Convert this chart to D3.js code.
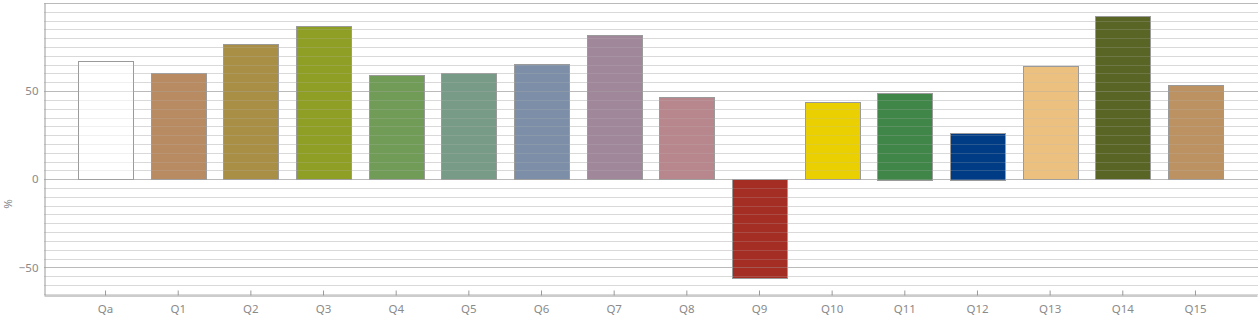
<!DOCTYPE html>
<html>
<head>
<meta charset="utf-8">
<script src="https://cdn.jsdelivr.net/npm/d3@7"></script>
<style>
  body { margin: 0; background: #fff; }
  svg text { font-family: "Noto Sans", "Open Sans", sans-serif; fill: #8a8a8a; font-size: 11.5px; }
</style>
</head>
<body>
<svg width="1258" height="315"></svg>
<script>
var categories = ['Qa', 'Q1', 'Q2', 'Q3', 'Q4', 'Q5', 'Q6', 'Q7', 'Q8', 'Q9', 'Q10', 'Q11', 'Q12', 'Q13', 'Q14', 'Q15'];
var values = [67.0, 60.2, 76.7, 86.9, 58.9, 60.0, 65.3, 81.6, 46.6, -55.9, 43.7, 49.2, 26.5, 64.0, 92.6, 53.4];
var colors = ['#ffffff', '#b98b62', '#a88f45', '#8f9f26', '#709c57', '#779b87', '#7d8fa8', '#a08799',
              '#b8878d', '#a42d24', '#ead000', '#418649', '#003c85', '#ecc07f', '#596525', '#bc9263'];
var yTicks = [-50, 0, 50];

var svg = d3.select('svg');
var plotLeft = 44, plotRight = 1257, plotTop = 3, plotBottom = 295;

var xScale = d3.scaleBand()
    .domain(categories)
    .range([plotLeft, plotRight])
    .paddingInner(0.246)
    .paddingOuter(0.47);

var yScale = d3.scaleLinear()
    .domain([-65.7, 100])
    .range([plotBottom, plotTop]);

var data = categories.map(function(c, i){
    return { cat: c, value: values[i], color: colors[i] };
});

var minor = d3.range(-65, 101, 5).filter(function(v){ return v % 50 !== 0; });
var major = [-50, 0, 50, 100];

function drawGrid(vals, color, opacity) {
    svg.append('g')
        .selectAll('line')
        .data(vals)
        .enter()
        .append('line')
        .attr('x1', plotLeft)
        .attr('x2', 1258)
        .attr('y1', function(d){ return Math.round(yScale(d)) + 0.5; })
        .attr('y2', function(d){ return Math.round(yScale(d)) + 0.5; })
        .style('stroke', color)
        .style('stroke-opacity', opacity);
}

drawGrid(minor, '#e2e2e2', 1);
drawGrid(major, '#c4c4c4', 1);

// bars
svg.append('g')
    .selectAll('rect')
    .data(data)
    .enter()
    .append('rect')
    .attr('x', function(d){ return Math.round(xScale(d.cat)) + 0.5; })
    .attr('width', Math.round(xScale.bandwidth()))
    .attr('y', function(d){ return Math.round(yScale(Math.max(0, d.value))) + 0.5; })
    .attr('height', function(d){ return Math.round(Math.abs(yScale(d.value) - yScale(0))); })
    .style('fill', function(d){ return d.color; })
    .style('stroke', '#9a9a9a')
    .style('stroke-width', 1);

// faint grid showing through the bars
drawGrid(minor, '#bbbbbb', 0.22);
drawGrid(major, '#aaaaaa', 0.35);

// y axis
var yAxis = d3.axisLeft(yScale).tickValues(yTicks).tickSize(0).tickPadding(6);
var gy = svg.append('g')
    .attr('transform', 'translate(' + (plotLeft + 0.5) + ',0)')
    .call(yAxis);
gy.select('.domain').style('stroke', '#999');
gy.selectAll('text').style('fill', '#8a8a8a').style('font-size', '11.5px');

// x axis
var xAxis = d3.axisBottom(xScale).tickSizeInner(-5).tickSizeOuter(0).tickPadding(9);
var gx = svg.append('g')
    .attr('transform', 'translate(0,' + (plotBottom + 0.5) + ')')
    .call(xAxis);
gx.select('.domain').style('stroke', '#999');
gx.selectAll('.tick line').style('stroke', '#999');
gx.selectAll('text').style('fill', '#8a8a8a').style('font-size', '11.5px');

svg.append('text')
   .attr('transform', 'translate(12,204)rotate(-90)')
   .attr('text-anchor', 'middle')
   .text('%');
</script>
</body>
</html>
